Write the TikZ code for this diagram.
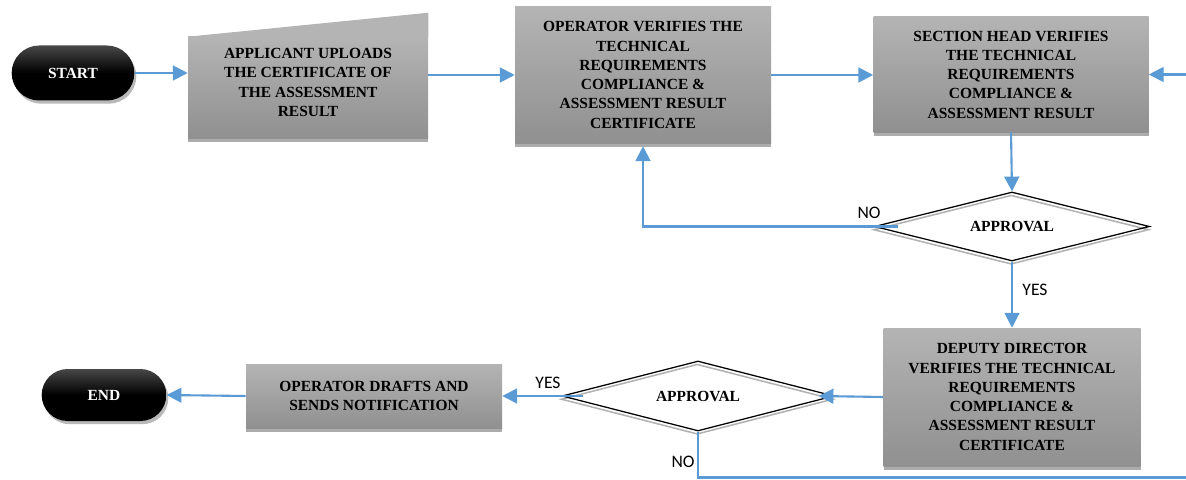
\documentclass[tikz,border=0pt]{standalone}
\usepackage{fontspec}
\setmainfont{Liberation Serif}
\newfontfamily\labelfont{Carlito}
\usetikzlibrary{arrows.meta,shapes.geometric,shapes.misc,shadows,calc}
\definecolor{flowblue}{RGB}{91,155,213}
\definecolor{boxtop}{RGB}{180,180,180}
\definecolor{boxbottom}{RGB}{144,144,144}
\definecolor{boxshadow}{RGB}{172,172,172}
\begin{document}
\begin{tikzpicture}[x=0.25mm, y=-0.25mm, >={Triangle[length=10.5pt,width=10.5pt]},
    procbox/.style={rectangle, top color=boxtop, bottom color=boxbottom, align=center,
      font=\fontsize{11}{13.7}\selectfont\bfseries, inner sep=2pt,
      drop shadow={shadow xshift=0pt, shadow yshift=-0.9mm, fill=boxshadow, opacity=1}},
    terminal/.style={rounded rectangle, top color=black!72, bottom color=black, middle color=black,
      text=white, font=\fontsize{11}{13}\selectfont\bfseries,
      drop shadow={shadow xshift=0.5mm, shadow yshift=-0.8mm, fill=gray!55, opacity=1}},
    decision/.style={diamond, aspect=3.9, draw=black, line width=0.9pt, inner sep=0pt,
      font=\fontsize{11}{13}\selectfont\bfseries,
      drop shadow={shadow xshift=-0.2mm, shadow yshift=-0.8mm, fill=none, draw=gray!60, line width=1.1pt, opacity=1}},
    flow/.style={draw=flowblue, line width=1.5pt},
    answer/.style={font=\labelfont\fontsize{12.5}{14}\selectfont, inner sep=0pt}]
  \useasboundingbox (0,0) rectangle (1186,479);
  % top row
  \node[terminal, minimum width=33mm, minimum height=13.75mm] (start) at (73,73) {START};
  \node[procbox, minimum width=60mm, minimum height=25.25mm] (upload) at (308,87.5)
    {APPLICANT UPLOADS\\THE CERTIFICATE OF\\THE ASSESSMENT\\RESULT\\[-6.5pt]\mbox{}};
  \fill[boxtop] (upload.north west) -- (upload.north east) -- ($(upload.north east)+(0,-24)$) -- cycle;
  \node[procbox, minimum width=64mm, minimum height=34mm] (operator) at (643,75)
    {OPERATOR VERIFIES THE\\TECHNICAL\\REQUIREMENTS\\COMPLIANCE \&\\ASSESSMENT RESULT\\CERTIFICATE};
  \node[procbox, minimum width=68.75mm, minimum height=28.75mm] (section) at (1011,74.5)
    {SECTION HEAD VERIFIES\\THE TECHNICAL\\REQUIREMENTS\\COMPLIANCE \&\\ASSESSMENT RESULT};
  \node[decision, minimum width=68.75mm, minimum height=17.25mm] (app1) at (1012,226.5) {APPROVAL};
  % bottom row
  \node[procbox, minimum width=64.25mm, minimum height=34.5mm] (deputy) at (1012,397)
    {DEPUTY DIRECTOR\\VERIFIES THE TECHNICAL\\REQUIREMENTS\\COMPLIANCE \&\\ASSESSMENT RESULT\\CERTIFICATE};
  \node[decision, minimum width=68mm, minimum height=17.5mm] (app2) at (698,396) {APPROVAL};
  \node[procbox, minimum width=64mm, minimum height=16mm] (drafts) at (374,396)
    {OPERATOR DRAFTS AND\\SENDS NOTIFICATION};
  \node[terminal, minimum width=33.5mm, minimum height=13mm] (end) at (104,395) {END};
  \coordinate (rin) at (1186,74.5);
  \coordinate (nout) at (1186,477.5);
  % connectors
  \draw[flow, ->] (start.east) -- (start.east -| upload.west);
  \draw[flow, ->] (operator.west -| upload.east) -- (operator.west);
  \draw[flow, ->] (operator.east) -- (operator.east -| section.west);
  \draw[flow, ->] (rin) -- (section.east);
  \draw[flow, ->] (section.south) -- (app1.north);
  \draw[flow, ->] ($(app1.west)+(24,0)$) -| ($(operator.south)+(0,3)$);
  \draw[flow, ->] (app1.south) -- (deputy.north);
  \draw[flow, ->] (deputy.west) -- ($(app2.east)+(-16,0)$);
  \draw[flow, ->] ($(app2.west)+(22,0)$) -- (drafts.east);
  \draw[flow, ->] (drafts.west) -- (end.east);
  \draw[flow] (app2.south) |- (nout);
  \node[answer] (no1) at (869,213) {NO};
  \node[answer] (yes1) at (1035,290) {YES};
  \node[answer] (yes2) at (548,383) {YES};
  \node[answer] (no2) at (683,462) {NO};
\end{tikzpicture}
\end{document}
